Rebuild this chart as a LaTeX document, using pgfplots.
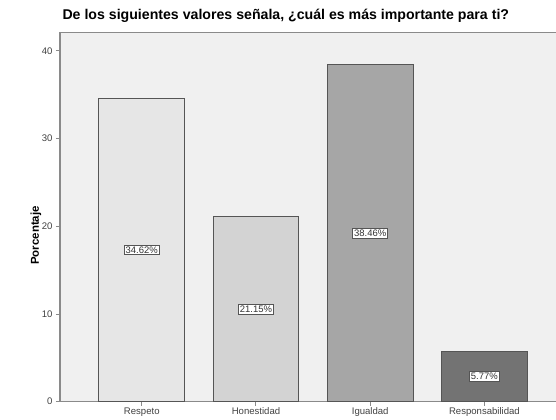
\documentclass[border=0pt]{standalone}
\usepackage{pgfplots}
\pgfplotsset{compat=1.18}
\usepackage{pgfplotstable}
\usepackage{fontspec}
\setmainfont{Liberation Sans}

\definecolor{plotbg}{HTML}{F0F0F0}
\definecolor{barA}{HTML}{E6E6E6}
\definecolor{barB}{HTML}{D3D3D3}
\definecolor{barC}{HTML}{A6A6A6}
\definecolor{barD}{HTML}{737373}
\definecolor{edge}{HTML}{555555}
\definecolor{frame}{HTML}{8A8A8A}

% porcentaje por valor
\pgfplotstableread{
x y
0 34.62
1 21.15
2 38.46
3 5.77
}\valores

\begin{document}
\begin{tikzpicture}
\useasboundingbox (0,0) rectangle (556bp,420bp);
\begin{axis}[
  at={(60bp,18.3bp)}, anchor=south west,
  scale only axis, width=500bp, height=369.4bp,
  xmin=-0.716, xmax=3.662, ymin=0, ymax=42.13,
  axis background/.style={fill=plotbg},
  axis line style={frame, line width=1.1bp},
  xtick={0,1,2,3},
  xticklabels={Respeto,Honestidad,Igualdad,Responsabilidad},
  ytick={0,10,20,30,40},
  tick align=outside, xtick pos=bottom, ytick pos=left,
  major tick length=4bp,
  tick style={frame, line width=1bp},
  ticklabel style={font=\fontsize{9.6}{11}\selectfont, text=black!75},
  xticklabel style={yshift=1.5bp},
  /pgf/number format/assume math mode=true,
  title={De los siguientes valores señala, ¿cuál es más importante para ti?},
  title style={at={(axis description cs:0,1)}, anchor=base west,
    xshift=-1bp, yshift=6.5bp, font=\bfseries\fontsize{14.2}{16}\selectfont},
  ylabel={Porcentaje},
  ylabel style={at={(axis description cs:-0.048,0.45)}, anchor=center,
    font=\bfseries\fontsize{11.5}{13}\selectfont},
  bar width=0.75,
]
\addplot[ybar, fill=barA, draw=edge, line width=0.9bp] table[x=x, y=y, restrict expr to domain={\coordindex}{0:0}] {\valores};
\addplot[ybar, fill=barB, draw=edge, line width=0.9bp] table[x=x, y=y, restrict expr to domain={\coordindex}{1:1}] {\valores};
\addplot[ybar, fill=barC, draw=edge, line width=0.9bp] table[x=x, y=y, restrict expr to domain={\coordindex}{2:2}] {\valores};
\addplot[ybar, fill=barD, draw=edge, line width=0.9bp] table[x=x, y=y, restrict expr to domain={\coordindex}{3:3}] {\valores};
% etiquetas a media altura de cada barra
\addplot[only marks, mark=none, draw=none, point meta=explicit,
  nodes near coords={\pgfmathprintnumber[fixed,fixed zerofill,precision=2]{\pgfplotspointmeta}\%},
  every node near coord/.append style={anchor=center, fill=white, draw=edge,
    line width=0.8bp, inner sep=1.6bp, text=black!80,
    font=\fontsize{9.5}{11}\selectfont}]
  table[x=x, y expr=\thisrow{y}/2, meta=y] {\valores};
\end{axis}
\end{tikzpicture}
\end{document}
